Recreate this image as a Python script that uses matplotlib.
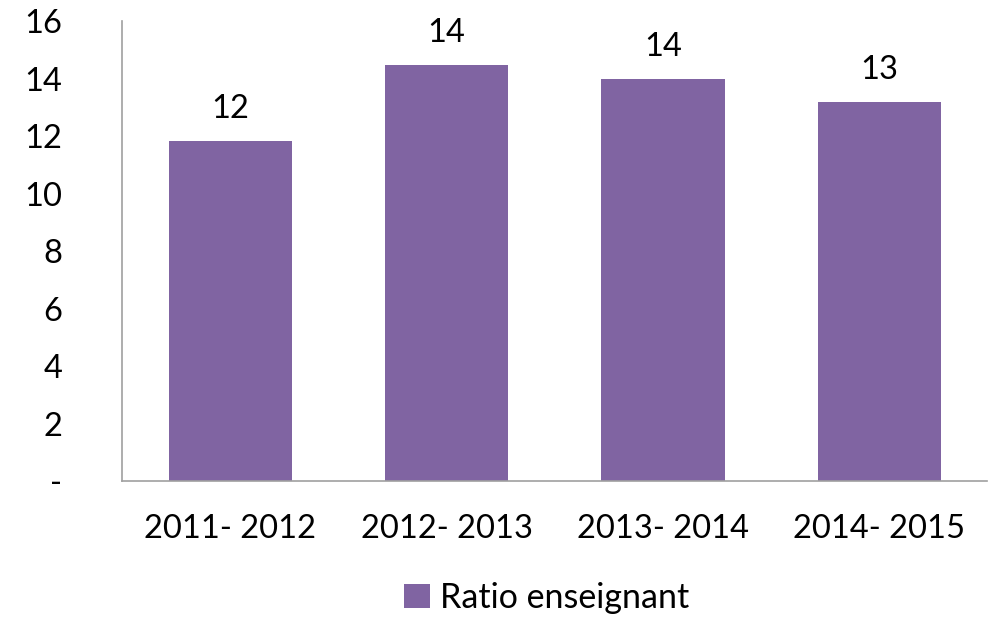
import numpy as np
import matplotlib.pyplot as plt

# data
periods = ['2011- 2012', '2012- 2013', '2013- 2014', '2014- 2015']
ratio = [11.83, 14.47, 13.98, 13.18]
yticks = [0, 2, 4, 6, 8, 10, 12, 14, 16]
ytick_labels = ['-', '2', '4', '6', '8', '10', '12', '14', '16']

plt.rcParams['font.family'] = ['Lato', 'DejaVu Sans']

fig = plt.figure(figsize=(9.89, 6.17), dpi=100)
ax = fig.add_axes([0.1234, 0.2204, 0.875, 0.745])

x = np.arange(len(periods))
bars = ax.bar(x, ratio, width=0.57, color='#8064A2', label='Ratio enseignant')

for b, v in zip(bars, ratio):
    ax.text(b.get_x() + b.get_width() / 2, v + 0.6, '%d' % round(v),
            ha='center', va='bottom', fontsize=23.5)

ax.set_xlim(-0.5, 3.5)
ax.set_ylim(0, 16)
ax.set_xticks(x)
ax.set_xticklabels(periods, fontsize=23.5)
ax.set_yticks(yticks)
ax.set_yticklabels(ytick_labels, fontsize=23.5)
ax.tick_params(axis='both', length=0)
ax.tick_params(axis='y', pad=43)
ax.tick_params(axis='x', pad=24)

for s in ['top', 'right']:
    ax.spines[s].set_visible(False)
for s in ['left', 'bottom']:
    ax.spines[s].set_color('#A0A0A0')
    ax.spines[s].set_linewidth(1.2)

fig.legend(handles=[bars], labels=['Ratio enseignant'], loc='center',
           bbox_to_anchor=(0.553, 0.031), frameon=False, fontsize=24.5,
           handlelength=0.75, handleheight=0.75, handletextpad=0.3)

fig.savefig('out.png', dpi=100)
